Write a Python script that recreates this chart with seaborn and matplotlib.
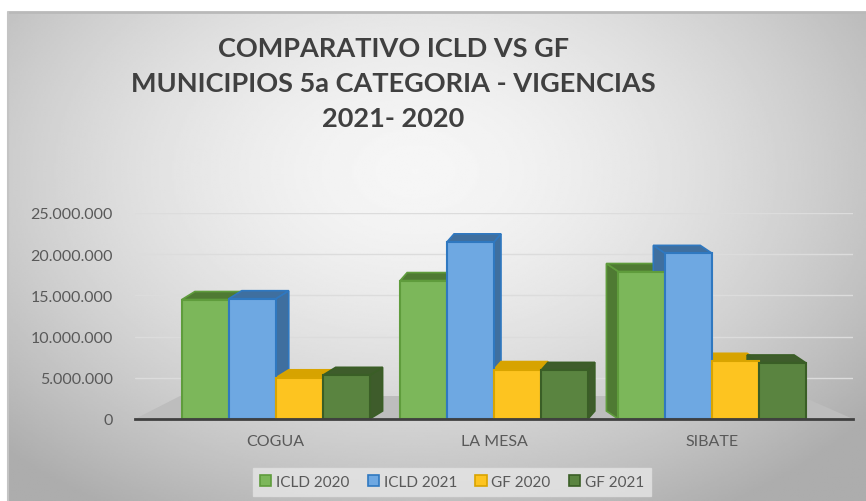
import numpy as np
import pandas as pd
import matplotlib
matplotlib.use("Agg")
import matplotlib.pyplot as plt
import matplotlib.transforms as mtransforms
from matplotlib.patches import Polygon, Patch
from matplotlib.ticker import FuncFormatter
import seaborn as sns

# ---- data -------------------------------------------------------------
municipios = ["COGUA", "LA MESA", "SIBATE"]
series = ["ICLD 2020", "ICLD 2021", "GF 2020", "GF 2021"]
icld_2020 = [14500000, 16800000, 17900000]
icld_2021 = [14600000, 21500000, 20100000]
gf_2020 = [5000000, 6000000, 7000000]
gf_2021 = [5300000, 5900000, 6800000]
y_ticks = [0, 5000000, 10000000, 15000000, 20000000, 25000000]

face_colors = ["#7cb75a", "#6ea8e2", "#fdc420", "#5a8440"]
edge_colors = ["#5f9c3c", "#2f78c0", "#d9a400", "#3a5e26"]
depth_colors = ["#4f7a33", "#3f6f9f", "#d7a300", "#3e5c2b"]

df = pd.DataFrame({
    "municipio": np.repeat(municipios, len(series)),
    "serie": series * len(municipios),
    "valor": np.ravel(np.column_stack([icld_2020, icld_2021, gf_2020, gf_2021])),
})

sns.set_theme(style="white")
plt.rcParams["font.family"] = ["Lato", "DejaVu Sans"]

W, H = 866, 502
fig = plt.figure(figsize=(W / 100, H / 100), dpi=100)
fig.patch.set_facecolor("white")

# ---- chart area background (soft radial gradient) ---------------------
bg = fig.add_axes([8 / W, 0, 1 - 8 / W, (H - 13) / H], zorder=-5)
gx, gy = np.meshgrid(np.linspace(-1, 1, 400), np.linspace(-1, 1, 300))
r = np.sqrt(((gx + 0.05) / 1.05) ** 2 + ((gy + 0.35) / 1.25) ** 2)
shade = 0.965 - 0.19 * np.clip(r, 0, 1.3) ** 1.6
bg.imshow(shade, cmap="gray", vmin=0, vmax=1, aspect="auto",
          extent=[0, 1, 0, 1], interpolation="bilinear")
bg.set_xlim(0, 1)
bg.set_ylim(0, 1)
bg.axis("off")
bg.plot([0, 1], [1, 1], color="#b9b9b9", lw=2, transform=bg.transAxes, clip_on=False)
bg.plot([0, 0], [0, 1], color="#c4c4c4", lw=1.5, transform=bg.transAxes, clip_on=False)

# ---- main axes ---------------------------------------------------------
ax = fig.add_axes([135 / W, (H - 420) / H, 718 / W, 206 / H])
ax.set_facecolor("none")

sns.barplot(data=df, x="municipio", y="valor", hue="serie", hue_order=series,
            order=municipios, palette=face_colors, width=0.86, gap=0,
            saturation=1, errorbar=None, legend=False, ax=ax, zorder=3)

ax.set_xlim(-0.645, 2.645)
ax.set_ylim(0, 25000000)
ax.set_yticks(y_ticks)
ax.yaxis.set_major_formatter(FuncFormatter(lambda v, p: f"{int(v):,}".replace(",", ".")))
ax.set_xlabel("")
ax.set_ylabel("")
ax.tick_params(axis="y", labelsize=11.5, labelcolor="#595959", length=0, pad=16)
ax.tick_params(axis="x", labelsize=11.5, labelcolor="#595959", length=0, pad=11)
for s in ["top", "right", "left"]:
    ax.spines[s].set_visible(False)
ax.spines["bottom"].set_color("#404040")
ax.spines["bottom"].set_linewidth(2)
ax.spines["bottom"].set_zorder(6)
ax.grid(axis="y", color="#dcdcdc", lw=1)
ax.set_axisbelow(True)

fig.canvas.draw()
ident = mtransforms.IdentityTransform()

# floor under the bars
x0, y0 = ax.transAxes.transform((0, 0))
x1, _ = ax.transAxes.transform((1, 0))
floor = Polygon([(x0, y0), (x1, y0), (x1 - 52, y0 + 23), (x0 + 45, y0 + 23)],
                closed=True, transform=ident, facecolor="#bdbdbd",
                edgecolor="none", zorder=1)
ax.add_patch(floor)

# depth faces behind each bar
depth_dx = [13, 7, -12]
depth_dy = 8
for i, patch in enumerate(ax.patches[:len(municipios) * len(series)]):
    s_idx = i // len(municipios)
    c_idx = i % len(municipios)
    bb = patch.get_window_extent()
    dx = depth_dx[c_idx]
    l, rgt, b, t = bb.x0, bb.x1, bb.y0, bb.y1
    top = [(l, t), (rgt, t), (rgt + dx, t + depth_dy), (l + dx, t + depth_dy)]
    xs = rgt if dx > 0 else l
    side = [(xs, b), (xs, t), (xs + dx, t + depth_dy), (xs + dx, b + depth_dy)]
    for verts in (side, top):
        ax.add_patch(Polygon(verts, closed=True, transform=ident,
                             facecolor=depth_colors[s_idx],
                             edgecolor=edge_colors[s_idx], lw=1.2, zorder=2))
    patch.set_edgecolor(edge_colors[s_idx])
    patch.set_linewidth(1.5)

# ---- title -------------------------------------------------------------
fig.text(393 / W, 1 - 84 / H,
         "COMPARATIVO ICLD VS GF\nMUNICIPIOS 5a CATEGORIA - VIGENCIAS\n2021- 2020",
         ha="center", va="center", fontsize=19.5, fontweight="bold",
         color="#404040", linespacing=1.55)

# ---- legend ------------------------------------------------------------
handles = [Patch(facecolor=face_colors[k], edgecolor=edge_colors[k], lw=1.2, label=series[k])
           for k in range(len(series))]
leg = fig.legend(handles=handles, loc="center", bbox_to_anchor=(452 / W, 1 - 483 / H),
                 ncol=4, frameon=True, fontsize=11, handlelength=0.75,
                 handleheight=0.75, handletextpad=0.3, columnspacing=1.2,
                 borderpad=0.45)
leg.get_frame().set_facecolor("#e6e6e6")
leg.get_frame().set_edgecolor("#e0e0e0")
leg.get_frame().set_boxstyle("square", pad=0)
for txt in leg.get_texts():
    txt.set_color("#595959")

fig.savefig("out.png", dpi=100)
